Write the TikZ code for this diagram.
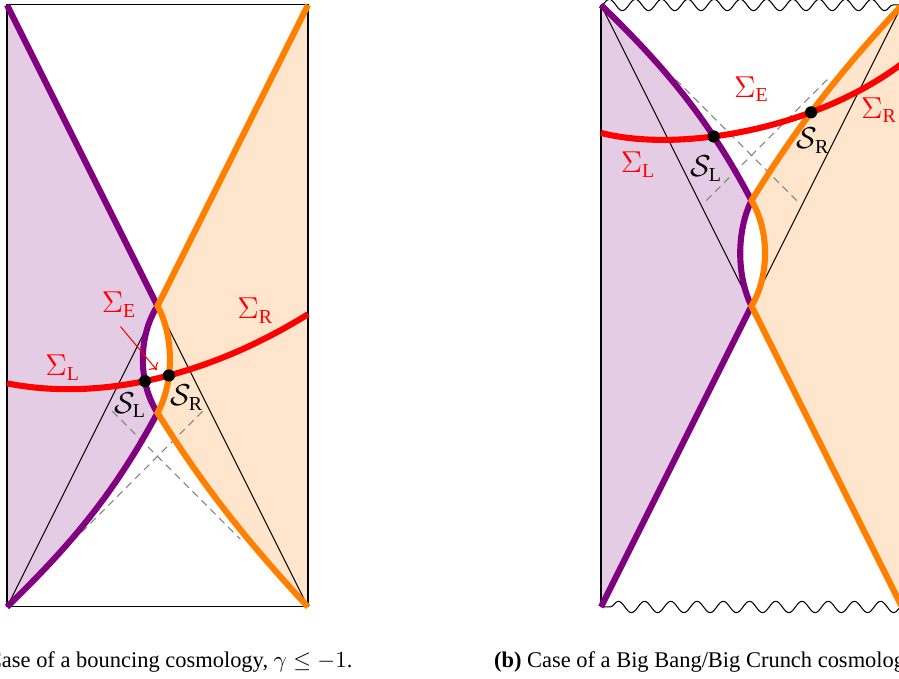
\documentclass[tikz,border=0pt]{standalone}
\usepackage{fontspec}
\setmainfont{Liberation Serif}
\usepackage{tikz}
\usetikzlibrary{arrows.meta,decorations.pathmorphing,intersections}

\begin{document}
\begin{tikzpicture}[x=2.52cm,y=2.52cm,
    wallL/.style={violet,line width=2.9pt},
    wallR/.style={orange,line width=2.9pt},
    slice/.style={red,line width=2.9pt},
    ray/.style={black,line width=0.5pt},
    cone/.style={gray,line width=0.5pt,dash pattern=on 3.5pt off 2.5pt},
    pt/.style={circle,fill=black,inner sep=0pt,minimum size=5.8pt},
    lab/.style={font=\fontsize{13.5}{16}\selectfont},
    captext/.style={font=\fontsize{10.7}{13}\selectfont},
    sing/.style={line width=0.5pt,decorate,decoration={snake,amplitude=2.7pt,segment length=12.5pt}}]

    \useasboundingbox (-1.0465,-2.478) rectangle (4.927,2.033);
    \clip (-1.0465,-2.478) rectangle (4.927,2.033);

    % (a) Bouncing cosmology
    \fill[violet!20] (-1,2) -- (0,0) .. controls (-0.13,-0.2) and (-0.13,-0.51) .. (0,-0.71)
        .. controls (-0.3,-1.27) and (-0.6,-1.61) .. (-1,-2) -- cycle;
    \fill[orange!20] (1,2) -- (0,0) .. controls (0.11,-0.2) and (0.11,-0.51) .. (0,-0.71)
        .. controls (0.33,-1.24) and (0.63,-1.6) .. (1,-2) -- cycle;

    % Light cone below the bounce
    \draw[cone] (-0.3,-0.7) -- (0.55,-1.55);
    \draw[cone] (0.3,-0.7) -- (-0.55,-1.55);

    % Boundary and null rays
    \draw[ray] (-1,-2) rectangle (1,2);
    \draw[ray] (-1,-2) -- (0,0) -- (1,-2);

    % Walls
    \draw[wallL, name path=wallLa] (-1,2) -- (0,0) .. controls (-0.13,-0.2) and (-0.13,-0.51) .. (0,-0.71)
        .. controls (-0.3,-1.27) and (-0.6,-1.61) .. (-1,-2);
    \draw[wallR, name path=wallRa] (1,2) -- (0,0) .. controls (0.11,-0.2) and (0.11,-0.51) .. (0,-0.71)
        .. controls (0.33,-1.24) and (0.63,-1.6) .. (1,-2);

    % Cauchy slice
    \draw[slice, name path=slicea] (-1,-0.514) .. controls (-0.42,-0.63) and (0.3,-0.49) .. (1,-0.055);
    \path[name intersections={of=slicea and wallLa, by=SLa}];
    \path[name intersections={of=slicea and wallRa, by=SRa}];
    \node[pt] (dotSLa) at (SLa) {};
    \node[pt] (dotSRa) at (SRa) {};

    % Labels
    \node[lab,red] (sigEa) at (-0.255,0.007) {$\Sigma_{\mathrm{E}}$};
    \node[lab,red] (sigRa) at (0.65,-0.03) {$\Sigma_{\mathrm{R}}$};
    \node[lab,red] (sigLa) at (-0.63,-0.41) {$\Sigma_{\mathrm{L}}$};
    \node[lab] (labSLa) at (-0.18,-0.66) {$\mathcal{S}_{\mathrm{L}}$};
    \node[lab] (labSRa) at (0.195,-0.61) {$\mathcal{S}_{\mathrm{R}}$};
    \coordinate (lensa) at (-0.005,-0.425);
    \draw[red,line width=0.5pt,-{To},shorten <=1pt] (sigEa.south) -- (lensa);

    \node[captext,anchor=base east] (capa) at (1.345,-2.405)
        {\textbf{(a)} Case of a bouncing cosmology, $\gamma \leq -1$.};

    % (b) Big Bang / Big Crunch cosmology
    \begin{scope}[shift={(3.947,0)}]
        \fill[violet!20] (-1,2) .. controls (-0.6,1.61) and (-0.3,1.27) .. (0,0.7)
            .. controls (-0.1,0.5) and (-0.1,0.2) .. (0,0) -- (-1,-2) -- cycle;
        \fill[orange!20] (1,2) .. controls (0.63,1.6) and (0.33,1.24) .. (0,0.7)
            .. controls (0.12,0.5) and (0.12,0.2) .. (0,0) -- (1,-2) -- cycle;

        % Light cone above the crunch
        \draw[cone] (-0.3,0.7) -- (0.52,1.52);
        \draw[cone] (0.3,0.7) -- (-0.52,1.52);

        % Singularities and null rays
        \draw[ray] (-1,-2) -- (-1,2);
        \draw[sing] (-1,2) -- (1,2);
        \draw[sing] (1,-2) -- (-1,-2);
        \draw[ray] (-1,2) -- (0,0) -- (1,2);

        % Walls
        \draw[wallL, name path=wallLb] (-1,2) .. controls (-0.6,1.61) and (-0.3,1.27) .. (0,0.7)
            .. controls (-0.1,0.5) and (-0.1,0.2) .. (0,0) -- (-1,-2);
        \draw[wallR, name path=wallRb] (1,2) .. controls (0.63,1.6) and (0.33,1.24) .. (0,0.7)
            .. controls (0.12,0.5) and (0.12,0.2) .. (0,0) -- (1,-2);

        % Cauchy slice
        \draw[slice, name path=sliceb] (-1,1.15) .. controls (-0.5,1.02) and (0.4,1.16) .. (1,1.61);
        \path[name intersections={of=sliceb and wallLb, by=SLb}];
        \path[name intersections={of=sliceb and wallRb, by=SRb}];
        \node[pt] (dotSLb) at (SLb) {};
        \node[pt] (dotSRb) at (SRb) {};

        % Labels
        \node[lab,red] (sigEb) at (0,1.44) {$\Sigma_{\mathrm{E}}$};
        \node[lab,red] (sigRb) at (0.847,1.30) {$\Sigma_{\mathrm{R}}$};
        \node[lab,red] (sigLb) at (-0.754,0.94) {$\Sigma_{\mathrm{L}}$};
        \node[lab] (labSLb) at (-0.30,0.914) {$\mathcal{S}_{\mathrm{L}}$};
        \node[lab] (labSRb) at (0.41,1.10) {$\mathcal{S}_{\mathrm{R}}$};
    \end{scope}

    \node[captext,anchor=base west] (capb) at (2.187,-2.405)
        {\textbf{(b)} Case of a Big Bang/Big Crunch cosmology};
\end{tikzpicture}
\end{document}
